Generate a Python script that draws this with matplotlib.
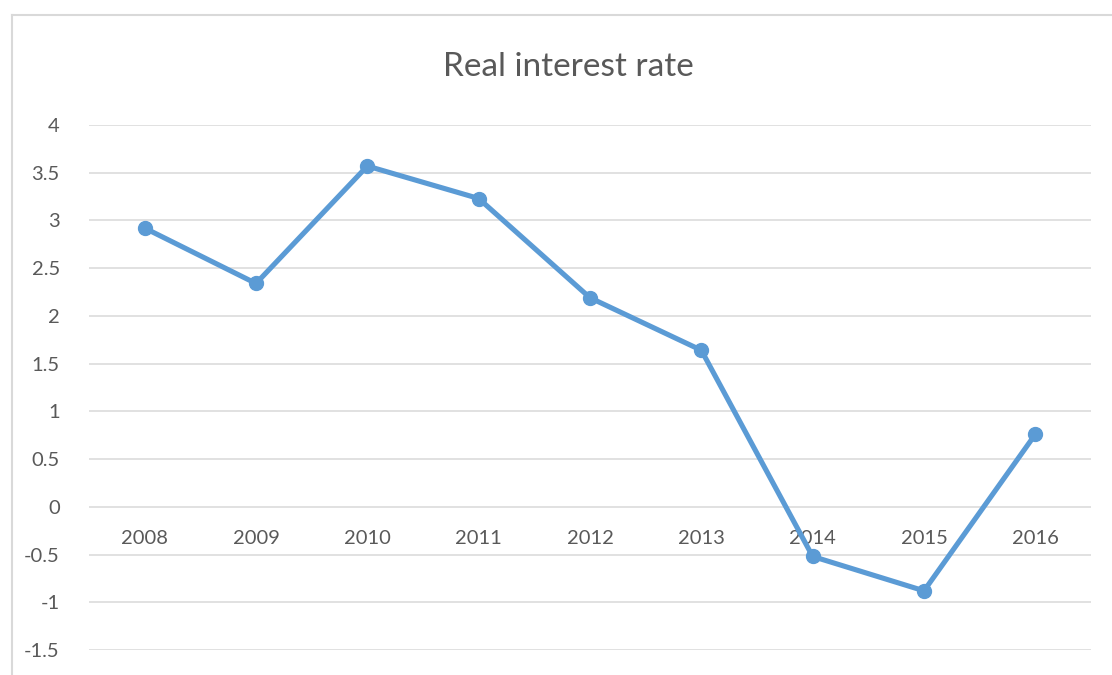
import matplotlib.pyplot as plt
from matplotlib.lines import Line2D

years = ['2008', '2009', '2010', '2011', '2012', '2013', '2014', '2015', '2016']
rate = [2.92, 2.34, 3.57, 3.23, 2.19, 1.64, -0.52, -0.88, 0.76]
yticks = [-1.5, -1, -0.5, 0, 0.5, 1, 1.5, 2, 2.5, 3, 3.5, 4]

plt.rcParams['font.family'] = ['Lato', 'DejaVu Sans']
text_color = '#595959'
grid_color = '#d9d9d9'
blue = '#5b9bd5'

fig = plt.figure(figsize=(11.12, 6.75), dpi=100)
ax = fig.add_axes([89 / 1112, 1 - 650 / 675, 1002 / 1112, 525 / 675])

# chart area border (only left and top visible in the crop)
fig.add_artist(Line2D([11.5 / 1112, 11.5 / 1112], [0, 1 - 15 / 675],
                      color=grid_color, lw=1.5, transform=fig.transFigure))
fig.add_artist(Line2D([11.5 / 1112, 1], [1 - 15 / 675, 1 - 15 / 675],
                      color=grid_color, lw=1.5, transform=fig.transFigure))

x = list(range(len(years)))
ax.plot(x, rate, color=blue, lw=3.7, marker='o', markersize=10,
        solid_joinstyle='round', zorder=3)

ax.set_xlim(-0.5, len(years) - 0.5)
ax.set_ylim(-1.5, 4)
ax.set_yticks(yticks)
ax.set_yticklabels(['%g' % v for v in yticks])
ax.yaxis.grid(True, color=grid_color, lw=1.1)
ax.set_axisbelow(True)

ax.set_xticks(x)
ax.set_xticklabels(years)
for s in ['top', 'right', 'left']:
    ax.spines[s].set_visible(False)
ax.spines['bottom'].set_position(('data', 0))
ax.spines['bottom'].set_visible(False)

ax.tick_params(axis='y', length=0, pad=21, labelsize=14.5, labelcolor=text_color)
ax.tick_params(axis='x', length=0, pad=17, labelsize=14.5, labelcolor=text_color)

fig.text(568 / 1112, 1 - 67 / 675, 'Real interest rate', ha='center', va='center',
         fontsize=24, color=text_color)

fig.savefig('out.png', dpi=100)
